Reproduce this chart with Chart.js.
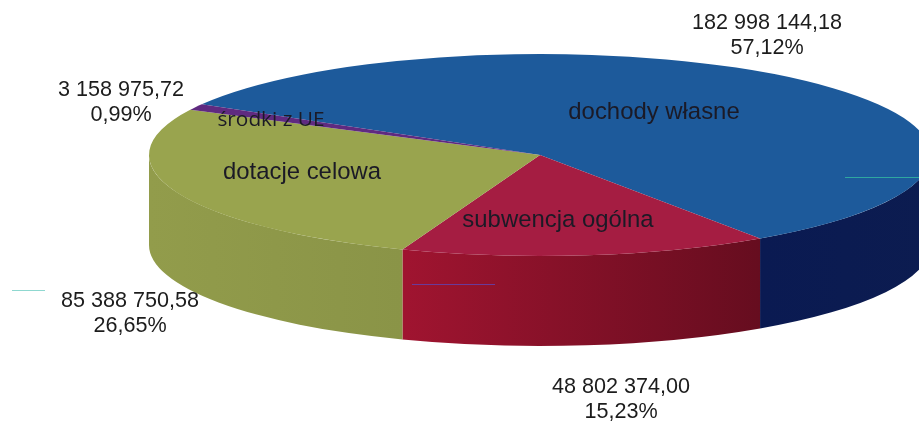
<!DOCTYPE html>
<html>
<head>
<meta charset="utf-8">
<script src="https://cdn.jsdelivr.net/npm/chart.js@4"></script>
<style>
html,body{margin:0;padding:0;background:#fff;overflow:hidden}
canvas{display:block;filter:blur(0.5px)}
</style>
</head>
<body>
<canvas id="c" width="919" height="424"></canvas>
<script>
const categories = ['dochody własne', 'subwencja ogólna', 'dotacje celowa', 'środki z UE'];
const amounts = [182998144.18, 48802374.00, 85388750.58, 3158975.72];
const amountLabels = ['182 998 144,18', '48 802 374,00', '85 388 750,58', '3 158 975,72'];
const percentLabels = ['57,12%', '15,23%', '26,65%', '0,99%'];

const topColors = ['#1d5a9b', '#a51d42', '#99a44e', '#5f2a80'];
const wallColors = [['#0a1a52', '#0c1c50'], ['#a01430', '#660d1f'], ['#929c4b', '#8a9447'], ['#4a2066', '#4a2066']];

const view = { cx: 540, cy: 155, rx: 391, ry: 101, depth: 90 };
const outerPos = [[767, 23, 48], [621, 387, 412], [130, 301, 326], [121, 90, 115]];
const innerPos = [[654, 112], [558, 220], [302, 172], [271, 120]];
const scanStreaks = [[845, 919, 177, '#2fa7a0'], [12, 45, 290, '#8fd8d0'], [412, 495, 284, '#6a3a9a']];
const TAU = Math.PI * 2;

function applyView(ctx, el) {
  ctx.translate(view.cx, view.cy);
  ctx.scale(view.rx / el.outerRadius, view.ry / el.outerRadius);
  ctx.translate(-el.x, -el.y);
}

const pie3d = {
  id: 'pie3d',
  beforeDatasetsDraw(chart) {
    const ctx = chart.ctx;
    const arcs = chart.getDatasetMeta(0).data;
    const first = arcs[0];
    ctx.save();
    applyView(ctx, first);
    const drop = view.depth * first.outerRadius / view.ry;
    arcs.forEach((el, i) => {
      let a = el.startAngle % TAU, b;
      if (a < 0) a += TAU;
      b = a + (el.endAngle - el.startAngle);
      [[0, Math.PI], [TAU, TAU + Math.PI]].forEach(([lo, hi]) => {
        const s = Math.max(a, lo), e = Math.min(b, hi);
        if (e <= s) return;
        const x0 = el.x + el.outerRadius * Math.cos(e);
        const x1 = el.x + el.outerRadius * Math.cos(s);
        const g = ctx.createLinearGradient(x0, 0, x1, 0);
        g.addColorStop(0, wallColors[i][0]);
        g.addColorStop(1, wallColors[i][1]);
        ctx.fillStyle = g;
        ctx.beginPath();
        ctx.arc(el.x, el.y, el.outerRadius, s, e);
        ctx.arc(el.x, el.y + drop, el.outerRadius, e, s, true);
        ctx.closePath();
        ctx.fill();
      });
    });
    ctx.restore();
    ctx.save();
    applyView(ctx, first);
  },
  afterDatasetsDraw(chart) {
    const ctx = chart.ctx;
    ctx.restore();
    ctx.save();
    scanStreaks.forEach(([x0, x1, y, color]) => {
      ctx.strokeStyle = color;
      ctx.lineWidth = 1;
      ctx.beginPath();
      ctx.moveTo(x0, y + 0.5);
      ctx.lineTo(x1, y + 0.5);
      ctx.stroke();
    });
    ctx.textAlign = 'center';
    ctx.textBaseline = 'middle';
    ctx.fillStyle = '#1c1c1c';
    ctx.font = '21.6px "Liberation Sans"';
    amountLabels.forEach((t, i) => {
      ctx.fillText(t, outerPos[i][0], outerPos[i][1]);
      ctx.fillText(percentLabels[i], outerPos[i][0], outerPos[i][2]);
    });
    ctx.fillStyle = '#1b1a26';
    categories.forEach((t, i) => {
      ctx.font = i === 3 ? '20.8px "Open Sans"' : '23.9px "Liberation Sans"';
      ctx.fillText(t, innerPos[i][0], innerPos[i][1]);
    });
    ctx.restore();
  }
};

new Chart(document.getElementById('c'), {
  type: 'pie',
  data: {
    labels: categories,
    datasets: [{
      data: amounts,
      backgroundColor: topColors,
      borderWidth: 0,
      clip: false
    }]
  },
  options: {
    responsive: false,
    animation: false,
    rotation: 300.1,
    layout: { padding: 0 },
    plugins: { legend: { display: false }, tooltip: { enabled: false } }
  },
  plugins: [pie3d]
});
</script>
</body>
</html>
